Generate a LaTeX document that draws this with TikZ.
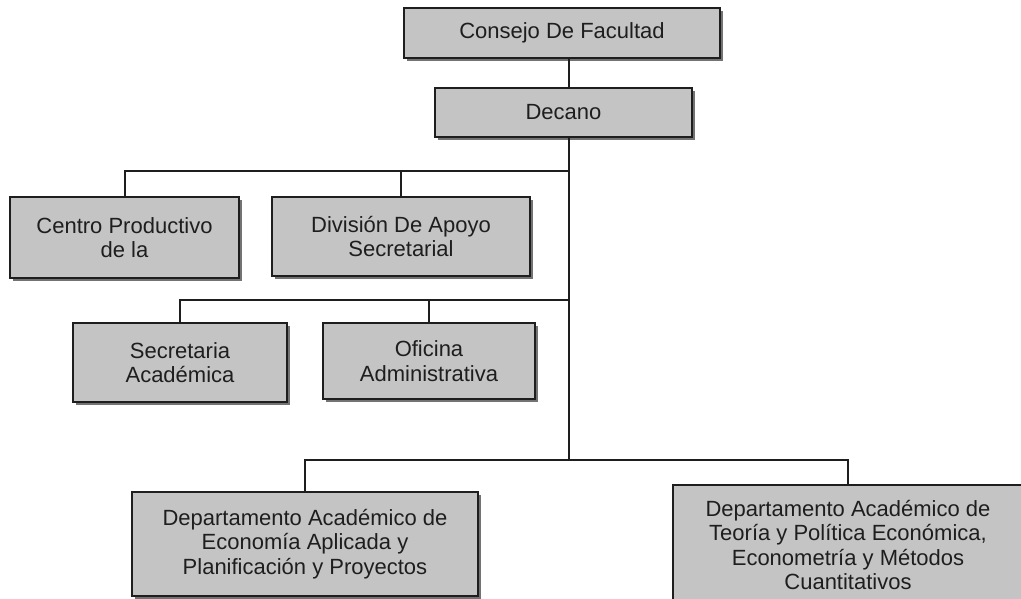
\documentclass[tikz,border=0pt]{standalone}
\usepackage{fontspec}
\setmainfont{Liberation Sans}
\usetikzlibrary{shadows}
\definecolor{boxfill}{HTML}{C4C4C4}
\definecolor{inkcol}{HTML}{1E1E1E}
\tikzset{
  orgbox/.style={draw=inkcol, line width=2pt, fill=boxfill, align=center,
    text=inkcol, inner sep=0pt,
    font=\fontsize{22}{24.5}\selectfont,
    drop shadow={shadow xshift=2.5pt, shadow yshift=-2.5pt, fill=black!55, opacity=1}},
  link/.style={draw=inkcol, line width=2pt}
}
\begin{document}
\begin{tikzpicture}[x=1pt, y=-1pt]
\useasboundingbox[fill=white] (0,0) rectangle (1021,598);

\node[orgbox, minimum width=316pt, minimum height=50pt] (consejo) at (562,33) {Consejo De Facultad};
\node[orgbox, minimum width=257pt, minimum height=49pt] (decano) at (563.5,112.5) {Decano};
\node[orgbox, minimum width=229pt, minimum height=81pt] (centro) at (124.5,237.5) {Centro Productivo\\de la};
\node[orgbox, minimum width=258pt, minimum height=79pt] (division) at (401,236.5) {División De Apoyo\\Secretarial};
\node[orgbox, minimum width=214pt, minimum height=79pt] (secretaria) at (180,362.5) {Secretaria\\Académica};
\node[orgbox, minimum width=212pt, minimum height=76pt] (oficina) at (429,361) {Oficina\\Administrativa};
\node[orgbox, minimum width=346pt, minimum height=104pt] (dep1) at (305,544) {Departamento Académico de\\Economía Aplicada y\\Planificación y Proyectos};
\node[orgbox, minimum width=350pt, minimum height=120pt] (dep2) at (848,545) {Departamento Académico de\\Teoría y Política Económica,\\Econometría y Métodos\\Cuantitativos};

\coordinate (j1) at (569,171);
\coordinate (j2) at (569,300);
\coordinate (j3) at (569,460);

\draw[link] (consejo.south -| j1) -- (decano.north -| j1);
\draw[link] (decano.south -| j1) -- (j3);
\draw[link] (centro.north) |- (j1);
\draw[link] (division.north) -- (division.north |- j1);
\draw[link] (secretaria.north) |- (j2);
\draw[link] (oficina.north) -- (oficina.north |- j2);
\draw[link] (dep1.north) |- (j3) -| (dep2.north);
\end{tikzpicture}
\end{document}
